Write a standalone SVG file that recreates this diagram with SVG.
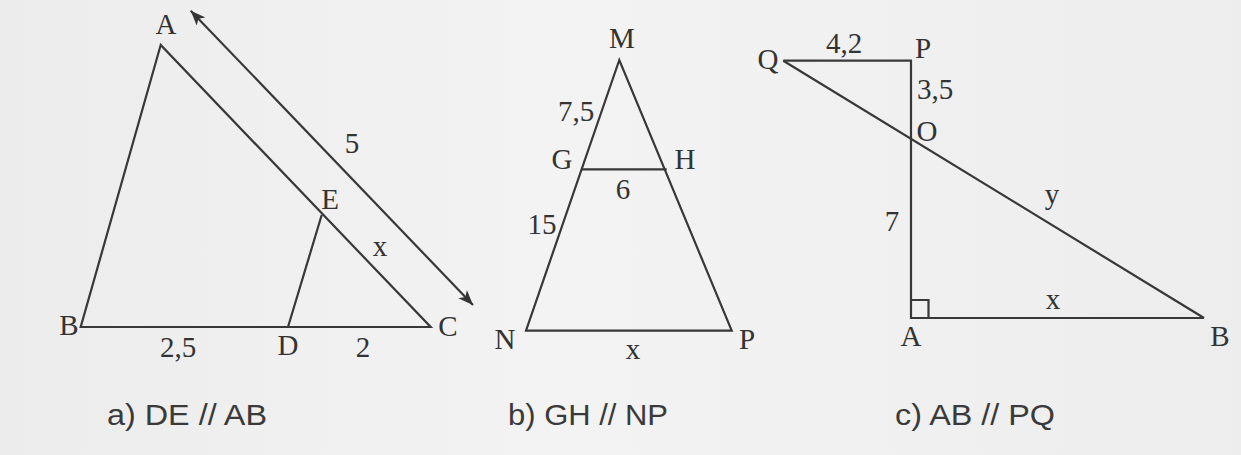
<svg xmlns="http://www.w3.org/2000/svg" width="1241" height="455" viewBox="0 0 1241 455">
<defs>
<linearGradient id="bg" x1="0" y1="0" x2="1" y2="0">
<stop offset="0" stop-color="#ececec"/>
<stop offset="0.45" stop-color="#f3f3f3"/>
<stop offset="1" stop-color="#ededed"/>
</linearGradient>
<marker id="ah" markerUnits="userSpaceOnUse" markerWidth="16" markerHeight="12" refX="15" refY="6" orient="auto-start-reverse">
<path d="M0,0 L15,6 L0,12 L4,6 z" fill="#333"/>
</marker>
<style>
.ln{stroke:#383838;stroke-width:2.2;fill:none;stroke-linejoin:miter}
.lb{font-family:"Liberation Serif","Times New Roman",serif;font-size:29px;fill:#333;text-anchor:middle}
.cap{font-family:"Liberation Sans",Arial,sans-serif;font-size:30px;fill:#3a3a3a}
</style>
</defs>
<rect x="0" y="0" width="1241" height="455" fill="url(#bg)"/>

<g id="figure-a">
<g id="a-shapes">
<polygon class="ln" points="160.7,45 80.7,327 430.7,327"/>
<line class="ln" x1="288" y1="327" x2="321.7" y2="215"/>
</g>
<g id="a-connectors">
<line class="ln" x1="190.7" y1="10.7" x2="473" y2="305" marker-start="url(#ah)" marker-end="url(#ah)"/>
</g>
<g id="a-labels">
<text class="lb" x="166" y="34">A</text>
<text class="lb" x="69" y="335">B</text>
<text class="lb" x="448" y="336">C</text>
<text class="lb" x="288" y="355">D</text>
<text class="lb" x="330" y="209">E</text>
<text class="lb" x="352" y="153">5</text>
<text class="lb" x="380" y="256">x</text>
<text class="lb" x="178" y="357">2,5</text>
<text class="lb" x="363" y="357">2</text>
</g>
</g>

<g id="figure-b">
<g id="b-shapes">
<polygon class="ln" points="619.3,60 526,330.7 731.7,330.7"/>
<line class="ln" x1="581.7" y1="169.3" x2="666.7" y2="169.3"/>
</g>
<g id="b-labels">
<text class="lb" x="622" y="48">M</text>
<text class="lb" x="562" y="169">G</text>
<text class="lb" x="685" y="169">H</text>
<text class="lb" x="623" y="199">6</text>
<text class="lb" x="576" y="121">7,5</text>
<text class="lb" x="542" y="234">15</text>
<text class="lb" x="505" y="349">N</text>
<text class="lb" x="747" y="349">P</text>
<text class="lb" x="633" y="359">x</text>
</g>
</g>

<g id="figure-c">
<g id="c-shapes">
<polyline class="ln" points="783.3,60.7 911,60.7 911,318 1204,318"/>
<line class="ln" x1="783.3" y1="60.7" x2="1204" y2="318"/>
<polyline class="ln" points="911,300 928.5,300 928.5,318"/>
</g>
<g id="c-labels">
<text class="lb" x="768" y="69">Q</text>
<text class="lb" x="844" y="53">4,2</text>
<text class="lb" x="923" y="58">P</text>
<text class="lb" x="935" y="99">3,5</text>
<text class="lb" x="927" y="141">O</text>
<text class="lb" x="892" y="231">7</text>
<text class="lb" x="1052" y="204">y</text>
<text class="lb" x="1053" y="309">x</text>
<text class="lb" x="911" y="346">A</text>
<text class="lb" x="1220" y="346">B</text>
</g>
</g>

<g id="captions">
<text class="cap" x="107" y="425" textLength="160" lengthAdjust="spacingAndGlyphs">a) DE // AB</text>
<text class="cap" x="508" y="425" textLength="160" lengthAdjust="spacingAndGlyphs">b) GH // NP</text>
<text class="cap" x="895" y="425" textLength="160" lengthAdjust="spacingAndGlyphs">c) AB // PQ</text>
</g>
</svg>
